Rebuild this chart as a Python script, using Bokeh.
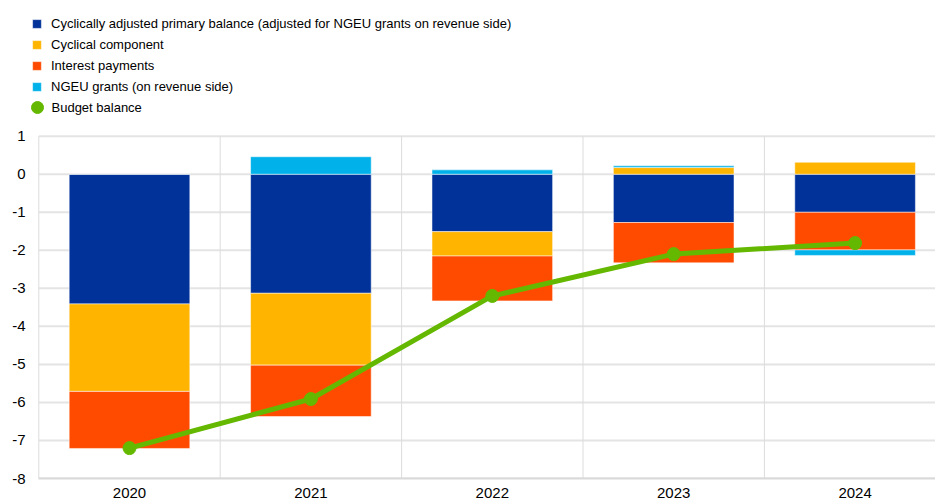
from bokeh.plotting import figure
from bokeh.models import Range1d, FixedTicker, Legend, LegendItem, ColumnDataSource
from bokeh.embed import file_html
from bokeh.resources import INLINE

years = ["2020", "2021", "2022", "2023", "2024"]
capb = [-3.41, -3.13, -1.51, -1.27, -1.00]
cyclical = [-2.30, -1.89, -0.64, 0.175, 0.315]
interest = [-1.50, -1.35, -1.18, -1.06, -0.99]
ngeu = [0.0, 0.46, 0.115, 0.045, -0.145]
budget = [-7.20, -5.91, -3.20, -2.10, -1.81]
y_ticks = [-8, -7, -6, -5, -4, -3, -2, -1, 0, 1]

series = [
    ("Cyclically adjusted primary balance (adjusted for NGEU grants on revenue side)", capb, "#003299"),
    ("Cyclical component", cyclical, "#FFB400"),
    ("Interest payments", interest, "#FF4B00"),
    ("NGEU grants (on revenue side)", ngeu, "#00B1EA"),
]
budget_name = "Budget balance"
GREEN = "#65B800"
GRID = "#dcdcdc"

FONT = "Liberation Sans"
W, H = 935, 504
FRAME_LEFT = 30        # px, frame left border
AXIS_PX = 38.3         # px, where the category area starts
TOP_PX = 135.7         # px from figure top to y = 1
BOTTOM = 26
cat_px = 181.4
frame_w = W - FRAME_LEFT
frame_h = H - BOTTOM
ppu = (frame_h - TOP_PX) / (max(y_ticks) - min(y_ticks))
xs = list(range(len(years)))
x_lo = xs[0] - 0.5
x_start = x_lo - (AXIS_PX - FRAME_LEFT) / cat_px
x_end = x_start + frame_w / cat_px
y_end = max(y_ticks) + TOP_PX / ppu

p = figure(width=W, height=H, output_backend="svg", toolbar_location=None,
           x_range=Range1d(x_start, x_end),
           y_range=Range1d(min(y_ticks), y_end),
           min_border_left=FRAME_LEFT, min_border_right=0, min_border_top=0,
           min_border_bottom=BOTTOM)
p.outline_line_color = None
p.background_fill_color = "white"
p.border_fill_color = "white"
p.xgrid.visible = False
p.ygrid.visible = False

# grid as segments limited to the data area
n = len(y_ticks)
p.segment(x0=[x_lo] * n, x1=[x_end] * n, y0=y_ticks, y1=y_ticks,
          line_color="#e4e4e4", line_width=2, level="underlay")
bounds = [x - 0.5 for x in xs]
p.segment(x0=bounds, x1=bounds, y0=[min(y_ticks)] * len(bounds), y1=[max(y_ticks)] * len(bounds),
          line_color=GRID, line_width=1, level="underlay")

pos_base = [0.0] * len(years)
neg_base = [0.0] * len(years)
items = []
for name, vals, col in series:
    bottoms, tops = [], []
    for i, v in enumerate(vals):
        if v >= 0:
            bottoms.append(pos_base[i]); tops.append(pos_base[i] + v); pos_base[i] += v
        else:
            bottoms.append(neg_base[i]); tops.append(neg_base[i] + v); neg_base[i] += v
    src = ColumnDataSource(dict(x=xs, bottom=bottoms, top=tops))
    r = p.vbar(x="x", bottom="bottom", top="top", width=0.665, source=src,
               fill_color=col, line_color="white", line_width=1, line_alpha=0.5)
    items.append(LegendItem(label=name, renderers=[r]))

bsrc = ColumnDataSource(dict(x=xs, y=budget))
p.line(x="x", y="y", source=bsrc, line_color=GREEN, line_width=5)
sc = p.scatter(x="x", y="y", source=bsrc, size=13, fill_color=GREEN, line_color=GREEN)

common = dict(margin=0, padding=0, spacing=0, label_text_font=FONT,
              label_text_font_size="13px", label_text_color="#000000",
              background_fill_alpha=0, border_line_alpha=0)
legend = Legend(items=items, location=(1, 381), glyph_width=11, glyph_height=11,
                label_height=21, label_standoff=9, **common)
p.add_layout(legend, "center")
legend2 = Legend(items=[LegendItem(label=budget_name, renderers=[sc])], location=(-8.5, 356),
                 glyph_width=30, glyph_height=30, label_height=30, label_standoff=0, **common)
p.add_layout(legend2, "center")

# axes
p.yaxis.ticker = FixedTicker(ticks=y_ticks)
p.yaxis.bounds = (min(y_ticks), max(y_ticks))
p.yaxis.major_label_overrides = {t: str(t) for t in y_ticks}
p.yaxis.axis_line_color = None
p.yaxis.major_tick_line_color = None
p.yaxis.minor_tick_line_color = None
p.yaxis.major_tick_out = 0
p.yaxis.major_label_standoff = 5
p.yaxis.major_label_text_font = FONT
p.yaxis.major_label_text_font_size = "15px"
p.yaxis.major_label_text_color = "#000000"

p.xaxis.ticker = FixedTicker(ticks=xs)
p.xaxis.bounds = (x_lo, x_end)
p.xaxis.major_label_overrides = {x: y for x, y in zip(xs, years)}
p.xaxis.axis_line_color = "#d9d9d9"
p.xaxis.axis_line_width = 2
p.xaxis.major_tick_line_color = None
p.xaxis.minor_tick_line_color = None
p.xaxis.major_tick_out = 0
p.xaxis.major_label_standoff = 9
p.xaxis.major_label_text_font = FONT
p.xaxis.major_label_text_font_size = "15px"
p.xaxis.major_label_text_color = "#000000"

open("out.html", "w").write(file_html(p, INLINE))
